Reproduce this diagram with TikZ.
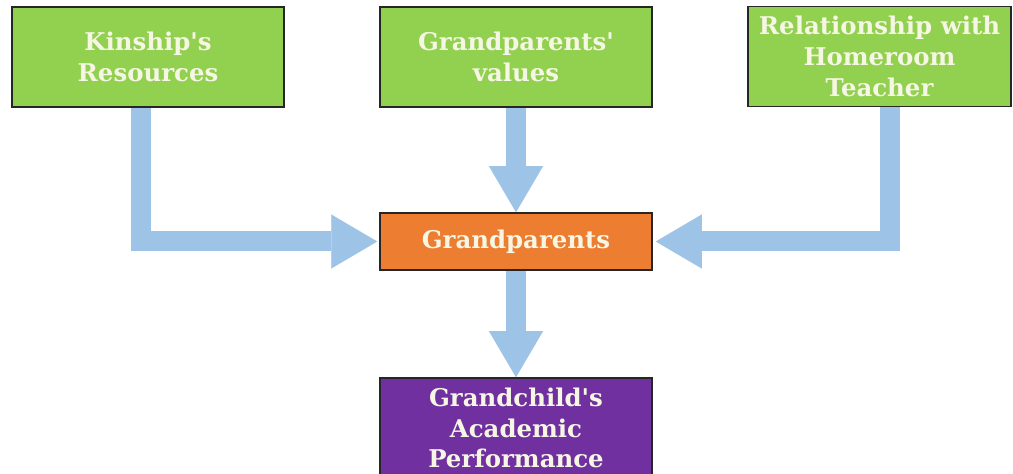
\documentclass[tikz,border=0pt]{standalone}
\usepackage{fontspec}
\setmainfont{DejaVu Serif}[Ligatures=TeXOff]
\usepackage{tikz}
\usetikzlibrary{arrows.meta,calc}

\definecolor{boxgreen}{RGB}{146,208,80}
\definecolor{boxorange}{RGB}{237,125,49}
\definecolor{boxpurple}{RGB}{112,48,160}
\definecolor{flowblue}{RGB}{157,195,230}
\definecolor{labelcream}{RGB}{246,246,228}

\tikzset{
	factor/.style={draw=black!85, line width=1.6bp, text=labelcream, align=center,
		minimum width=272bp, minimum height=100bp, inner sep=0pt,
		font=\fontsize{24.5}{31}\selectfont\bfseries},
	flow/.style={draw=flowblue, line width=20bp, line join=miter,
		-{Triangle[width=54bp, length=46bp, line width=0.1bp]}}
}

\begin{document}
\begin{tikzpicture}[x=1bp, y=-1bp]
	\useasboundingbox (0,0) rectangle (1013,474);

	\node[factor, fill=boxgreen]					(kin)	at	(148,57)	{Kinship's\\Resources};
	\node[factor, fill=boxgreen]					(val)	at	(516,57)	{Grandparents'\\values};
	\node[factor, fill=boxgreen, minimum width=263bp]	(rel)	at	(879.5,56.5)	{Relationship with\\Homeroom\\Teacher};
	\node[factor, fill=boxorange, minimum height=57bp]	(gp)	at	(516,241.5)	{Grandparents};
	\node[factor, fill=boxpurple]					(kid)	at	(516,428)	{Grandchild's\\Academic\\Performance};

	\draw[flow] ([xshift=-7.5bp]kin.south) |- ([xshift=-2bp]gp.west);
	\draw[flow] ([xshift=10.5bp]rel.south) |- ([xshift=3bp]gp.east);
	\draw[flow] (val.south) -- (gp.north);
	\draw[flow] (gp.south) -- (kid.north);

\end{tikzpicture}
\end{document}
